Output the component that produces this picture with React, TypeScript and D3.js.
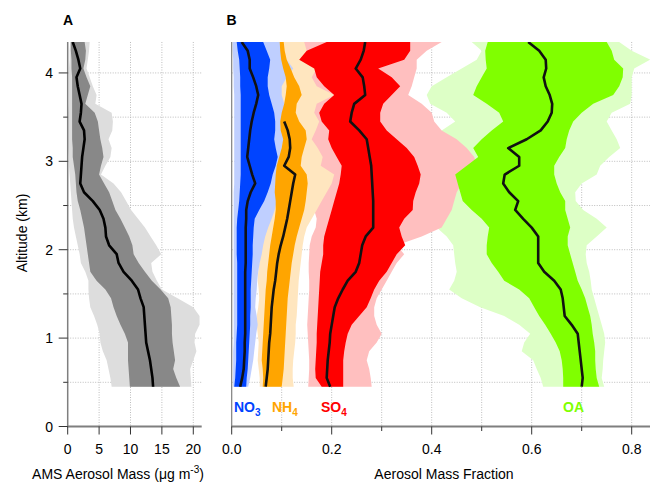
import React from 'react';
import * as d3 from 'd3';

// Altitude levels (km), top to bottom
const ALT = [4.35, 4.25, 4.15, 4.05, 3.95, 3.85, 3.75, 3.65, 3.55, 3.45, 3.35, 3.25, 3.15, 3.05, 2.95, 2.85, 2.75, 2.65, 2.55, 2.45, 2.35, 2.25, 2.15, 2.05, 1.95, 1.85, 1.75, 1.65, 1.55, 1.45, 1.35, 1.25, 1.15, 1.05, 0.95, 0.85, 0.75, 0.65, 0.55, 0.45];

// Panel A: AMS aerosol mass (ug m-3)
const MASS_P10 = [0.4, 0.3, 0.3, 0.2, 0.2, 0.2, 0.2, 0.2, 0.1, 0.1, 0.1, 0.1, 0.1, 0.2, 0.2, 0.3, 0.4, 0.5, 0.6, 0.7, 0.8, 1.0, 1.3, 1.6, 1.9, 2.1, 2.8, 3.3, 3.3, 3.4, 3.6, 4.2, 4.7, 5.1, 5.2, 5.6, 6.2, 6.5, 6.8, 7.0];
const MASS_P25 = [0.5, 0.5, 0.6, 0.6, 0.7, 0.7, 0.7, 0.7, 0.7, 0.7, 0.7, 0.7, 0.8, 0.8, 1.0, 1.2, 1.3, 1.4, 1.6, 2.0, 2.3, 2.6, 2.8, 3.0, 3.2, 3.4, 3.6, 4.6, 6.0, 6.9, 7.3, 7.8, 8.4, 9.1, 9.6, 9.6, 9.6, 9.7, 9.8, 9.9];
const MASS_MED = [0.8, 1.3, 1.7, 2.0, 1.4, 1.6, 1.9, 2.2, 2.1, 1.9, 2.6, 2.7, 2.5, 2.3, 2.2, 2.1, 2.0, 2.6, 4.0, 5.1, 5.7, 6.0, 6.1, 6.6, 7.8, 8.1, 8.9, 10.2, 11.2, 11.6, 12.1, 12.2, 12.3, 12.4, 12.5, 12.8, 13.1, 13.3, 13.5, 13.6];
const MASS_P75 = [2.7, 2.9, 2.8, 2.5, 3.0, 3.6, 3.2, 2.8, 4.3, 4.8, 5.0, 5.2, 5.5, 5.7, 5.3, 5.0, 5.8, 6.6, 7.1, 7.6, 8.4, 9.1, 9.8, 10.3, 10.5, 11.3, 12.3, 13.4, 14.8, 16.0, 16.4, 16.5, 16.6, 16.6, 16.7, 16.9, 17.1, 16.8, 17.3, 17.9];
const MASS_P90 = [3.5, 3.4, 3.2, 3.0, 3.5, 4.0, 4.6, 4.4, 7.0, 7.2, 7.1, 6.5, 7.0, 6.8, 6.0, 5.3, 7.3, 8.5, 9.3, 10.1, 11.2, 12.3, 13.2, 14.1, 14.9, 13.3, 13.5, 14.2, 15.0, 17.5, 20.0, 21.0, 21.0, 20.3, 20.2, 20.5, 20.0, 19.5, 19.6, 19.7];

// Panel B: mass fractions
const NO3_P10 = [0.002, 0.002, 0.003, 0.003, 0.004, 0.004, 0.005, 0.005, 0.005, 0.005, 0.005, 0.005, 0.005, 0.005, 0.005, 0.005, 0.005, 0.004, 0.004, 0.004, 0.004, 0.004, 0.004, 0.004, 0.004, 0.004, 0.004, 0.004, 0.004, 0.004, 0.004, 0.004, 0.004, 0.004, 0.004, 0.003, 0.003, 0.003, 0.003, 0.003];
const NO3_P25 = [0.010, 0.012, 0.015, 0.016, 0.017, 0.017, 0.018, 0.018, 0.018, 0.018, 0.018, 0.018, 0.018, 0.018, 0.018, 0.018, 0.017, 0.016, 0.015, 0.013, 0.011, 0.010, 0.010, 0.010, 0.010, 0.011, 0.011, 0.011, 0.011, 0.011, 0.011, 0.011, 0.011, 0.010, 0.009, 0.009, 0.009, 0.008, 0.007, 0.005];
const NO3_MED = [0.020, 0.032, 0.036, 0.036, 0.043, 0.049, 0.053, 0.049, 0.044, 0.040, 0.037, 0.035, 0.033, 0.031, 0.036, 0.041, 0.047, 0.038, 0.032, 0.029, 0.029, 0.028, 0.028, 0.028, 0.028, 0.028, 0.027, 0.027, 0.027, 0.027, 0.027, 0.027, 0.027, 0.027, 0.026, 0.026, 0.025, 0.024, 0.021, 0.017];
const NO3_P75 = [0.063, 0.070, 0.077, 0.075, 0.072, 0.072, 0.075, 0.080, 0.085, 0.087, 0.087, 0.085, 0.088, 0.092, 0.088, 0.082, 0.078, 0.072, 0.065, 0.055, 0.046, 0.044, 0.043, 0.042, 0.042, 0.041, 0.040, 0.039, 0.038, 0.038, 0.038, 0.037, 0.037, 0.036, 0.035, 0.034, 0.033, 0.032, 0.030, 0.029];
const NO3_P90 = [0.097, 0.100, 0.110, 0.123, 0.110, 0.100, 0.100, 0.105, 0.108, 0.107, 0.106, 0.104, 0.100, 0.104, 0.102, 0.097, 0.095, 0.093, 0.090, 0.086, 0.080, 0.073, 0.067, 0.063, 0.060, 0.056, 0.053, 0.051, 0.050, 0.048, 0.047, 0.050, 0.052, 0.049, 0.047, 0.045, 0.043, 0.040, 0.037, 0.033];

const NH4_P10 = [0.094, 0.094, 0.095, 0.096, 0.098, 0.096, 0.090, 0.087, 0.085, 0.082, 0.080, 0.082, 0.080, 0.076, 0.072, 0.070, 0.068, 0.066, 0.064, 0.062, 0.061, 0.060, 0.062, 0.060, 0.058, 0.055, 0.053, 0.052, 0.054, 0.055, 0.053, 0.050, 0.050, 0.052, 0.054, 0.053, 0.052, 0.054, 0.056, 0.056];
const NH4_P25 = [0.096, 0.097, 0.099, 0.103, 0.108, 0.110, 0.108, 0.105, 0.100, 0.097, 0.098, 0.103, 0.100, 0.095, 0.090, 0.088, 0.087, 0.086, 0.088, 0.088, 0.086, 0.083, 0.080, 0.077, 0.075, 0.073, 0.071, 0.070, 0.068, 0.067, 0.066, 0.065, 0.064, 0.063, 0.062, 0.061, 0.060, 0.062, 0.063, 0.062];
const NH4_MED = [null, null, null, null, null, null, null, null, null, 0.105, 0.112, 0.116, 0.117, 0.114, 0.105, 0.127, 0.123, 0.120, 0.117, 0.114, 0.111, 0.107, 0.103, 0.098, 0.094, 0.091, 0.089, 0.087, 0.084, 0.082, 0.080, 0.079, 0.078, 0.077, 0.075, 0.074, 0.073, 0.072, 0.070, 0.068];
const NH4_P75 = [0.104, 0.106, 0.110, 0.118, 0.125, 0.135, 0.140, 0.130, 0.128, 0.135, 0.148, 0.150, 0.145, 0.140, 0.138, 0.150, 0.152, 0.150, 0.148, 0.145, 0.140, 0.135, 0.130, 0.126, 0.123, 0.120, 0.118, 0.116, 0.114, 0.112, 0.111, 0.110, 0.109, 0.108, 0.107, 0.106, 0.105, 0.104, 0.102, 0.100];
const NH4_P90 = [0.145, 0.150, 0.160, 0.170, 0.160, 0.170, 0.205, 0.170, 0.165, 0.175, 0.168, 0.160, 0.172, 0.182, 0.178, 0.205, 0.200, 0.190, 0.180, 0.170, 0.160, 0.150, 0.145, 0.142, 0.140, 0.138, 0.136, 0.134, 0.133, 0.132, 0.131, 0.130, 0.128, 0.128, 0.127, 0.125, 0.123, 0.122, 0.122, 0.124];

const SO4_P10 = [0.130, 0.120, 0.125, 0.135, 0.140, 0.150, 0.160, 0.155, 0.157, 0.152, 0.140, 0.145, 0.150, 0.155, 0.160, 0.160, 0.155, 0.150, 0.155, 0.165, 0.170, 0.168, 0.160, 0.156, 0.155, 0.154, 0.154, 0.155, 0.155, 0.154, 0.153, 0.152, 0.151, 0.152, 0.153, 0.154, 0.155, 0.155, 0.154, 0.153];
const SO4_P25 = [0.190, 0.150, 0.135, 0.165, 0.170, 0.185, 0.205, 0.185, 0.175, 0.180, 0.195, 0.193, 0.200, 0.210, 0.220, 0.218, 0.215, 0.210, 0.205, 0.200, 0.195, 0.190, 0.185, 0.183, 0.183, 0.180, 0.177, 0.176, 0.175, 0.174, 0.173, 0.172, 0.171, 0.170, 0.170, 0.169, 0.168, 0.167, 0.168, 0.180];
const SO4_MED = [0.267, 0.264, 0.258, 0.248, 0.262, 0.265, 0.267, 0.245, 0.240, 0.237, 0.255, 0.270, 0.273, 0.276, 0.279, 0.280, 0.281, 0.282, 0.283, 0.283, 0.283, 0.283, 0.268, 0.261, 0.258, 0.255, 0.248, 0.232, 0.222, 0.213, 0.206, 0.203, 0.200, 0.197, 0.196, 0.194, 0.192, 0.191, 0.190, 0.197];
const SO4_P75 = [0.357, 0.357, 0.345, 0.293, 0.320, 0.337, 0.320, 0.303, 0.297, 0.297, 0.310, 0.330, 0.350, 0.365, 0.372, 0.378, 0.375, 0.368, 0.363, 0.362, 0.345, 0.335, 0.340, 0.347, 0.330, 0.320, 0.310, 0.295, 0.285, 0.278, 0.270, 0.255, 0.240, 0.232, 0.228, 0.225, 0.223, 0.223, 0.223, 0.223];
const SO4_P90 = [0.420, 0.390, 0.370, 0.370, 0.365, 0.360, 0.353, 0.380, 0.400, 0.405, 0.420, 0.450, 0.470, 0.485, 0.490, 0.480, 0.460, 0.450, 0.445, 0.440, 0.430, 0.420, 0.380, 0.330, 0.345, 0.330, 0.320, 0.310, 0.300, 0.290, 0.285, 0.285, 0.290, 0.300, 0.290, 0.275, 0.270, 0.275, 0.278, 0.280];

const OA_P10 = [0.480, 0.500, 0.490, 0.460, 0.430, 0.400, 0.390, 0.397, 0.430, 0.447, 0.420, 0.400, 0.400, 0.410, 0.420, 0.420, 0.420, 0.420, 0.420, 0.420, 0.415, 0.410, 0.430, 0.443, 0.445, 0.447, 0.450, 0.445, 0.435, 0.460, 0.497, 0.545, 0.575, 0.597, 0.585, 0.580, 0.603, 0.610, 0.618, 0.623];
const OA_P25 = [0.512, 0.507, 0.508, 0.510, 0.500, 0.490, 0.483, 0.510, 0.535, 0.543, 0.520, 0.500, 0.483, 0.493, 0.470, 0.447, 0.452, 0.457, 0.462, 0.480, 0.500, 0.515, 0.512, 0.510, 0.510, 0.520, 0.533, 0.545, 0.575, 0.595, 0.605, 0.615, 0.627, 0.638, 0.648, 0.656, 0.660, 0.662, 0.663, 0.663];
const OA_MED = [0.593, 0.615, 0.628, 0.629, 0.624, 0.628, 0.636, 0.641, 0.640, 0.632, 0.618, 0.590, 0.553, 0.575, 0.575, 0.546, 0.543, 0.555, 0.573, 0.567, 0.583, 0.600, 0.613, 0.613, 0.613, 0.613, 0.625, 0.645, 0.658, 0.662, 0.664, 0.666, 0.680, 0.692, 0.694, 0.696, 0.698, 0.700, 0.702, 0.700];
const OA_P75 = [0.750, 0.760, 0.765, 0.783, 0.782, 0.775, 0.763, 0.723, 0.700, 0.683, 0.675, 0.670, 0.667, 0.655, 0.645, 0.645, 0.650, 0.657, 0.667, 0.667, 0.672, 0.677, 0.672, 0.672, 0.677, 0.682, 0.687, 0.692, 0.700, 0.707, 0.712, 0.717, 0.720, 0.722, 0.725, 0.727, 0.727, 0.728, 0.730, 0.735];
const OA_P90 = [0.775, 0.800, 0.837, 0.805, 0.800, 0.800, 0.800, 0.797, 0.760, 0.750, 0.760, 0.770, 0.777, 0.755, 0.737, 0.730, 0.700, 0.687, 0.688, 0.703, 0.730, 0.750, 0.730, 0.710, 0.708, 0.710, 0.715, 0.718, 0.720, 0.725, 0.730, 0.735, 0.740, 0.745, 0.747, 0.745, 0.743, 0.742, 0.740, 0.745];

const A_TICKS = [0, 5, 10, 15, 20];
const B_TICKS = [0, 0.2, 0.4, 0.6, 0.8];
const B_MINOR = [0.1, 0.3, 0.5, 0.7];
const Y_TICKS = [0, 1, 2, 3, 4];
const Y_MINOR = [0.5, 1.5, 2.5, 3.5];
const Y_GRID = [0.5, 1, 1.5, 2, 2.5, 3, 3.5, 4];
const A_GRID = [5, 10, 15, 20];
const B_GRID = [0.1, 0.2, 0.3, 0.4, 0.5, 0.6, 0.7, 0.8];

const FONT = "'Liberation Sans', Arial, Helvetica, sans-serif";

const y = d3.scaleLinear().domain([0, 4.35]).range([426.5, 42]);
const xA = d3.scaleLinear().domain([0, 21.34]).range([67.7, 201.7]);
const xB = d3.scaleLinear().domain([0, 0.8366]).range([231.7, 650]);

const IDX = d3.range(ALT.length);

function bandPath(x: any, lo: number[], hi: number[]) {
  return d3.area<number>().y((i) => y(ALT[i])).x0((i) => x(lo[i])).x1((i) => x(hi[i]))(IDX) || '';
}
function linePath(x: any, m: (number | null)[]) {
  return d3.line<number>().defined((i) => m[i] != null).x((i) => x(m[i] as number)).y((i) => y(ALT[i]))(IDX) || '';
}

const SPECIES = [
  { key: 'OA', sub: '', p10: OA_P10, p25: OA_P25, med: OA_MED, p75: OA_P75, p90: OA_P90, dark: '#80ff00', light: '#ddffc6', lx: 563 },
  { key: 'SO', sub: '4', p10: SO4_P10, p25: SO4_P25, med: SO4_MED, p75: SO4_P75, p90: SO4_P90, dark: '#ff0000', light: '#ffbfbf', lx: 321 },
  { key: 'NH', sub: '4', p10: NH4_P10, p25: NH4_P25, med: NH4_MED, p75: NH4_P75, p90: NH4_P90, dark: '#ffa500', light: '#ffe6bf', lx: 272 },
  { key: 'NO', sub: '3', p10: NO3_P10, p25: NO3_P25, med: NO3_MED, p75: NO3_P75, p90: NO3_P90, dark: '#0044ff', light: '#bfcfff', lx: 234 },
];

export default function App() {
  const top = 42;
  const bottom = 426.5;
  const gridStyle = { stroke: '#bdbdbd', strokeWidth: 1, strokeDasharray: '1,1.5' };
  return (
    <div style={{ position: 'absolute', left: 0, top: 0 }}>
      <svg width={650} height={483} style={{ display: 'block', background: '#fff' }} fontFamily={FONT}>
        <defs>
          <clipPath id="clipA"><rect x={xA.range()[0]} y={top} width={xA.range()[1] - xA.range()[0]} height={bottom - top} /></clipPath>
          <clipPath id="clipB"><rect x={xB.range()[0]} y={top} width={xB.range()[1] - xB.range()[0]} height={bottom - top} /></clipPath>
        </defs>

        {/* Grids */}
        <g>
          {Y_GRID.map((v) => (
            <line key={'ga' + v} x1={xA.range()[0]} x2={xA.range()[1]} y1={y(v)} y2={y(v)} style={gridStyle} />
          ))}
          {A_GRID.map((v) => (
            <line key={'gav' + v} x1={xA(v)} x2={xA(v)} y1={top} y2={bottom} style={gridStyle} />
          ))}
          {Y_GRID.map((v) => (
            <line key={'gb' + v} x1={xB.range()[0]} x2={xB.range()[1]} y1={y(v)} y2={y(v)} style={gridStyle} />
          ))}
          {B_GRID.map((v) => (
            <line key={'gbv' + v} x1={xB(v)} x2={xB(v)} y1={top} y2={bottom} style={gridStyle} />
          ))}
        </g>

        {/* Panel A */}
        <g clipPath="url(#clipA)">
          <path d={bandPath(xA, MASS_P10, MASS_P90)} fill="#dddddd" />
          <path d={bandPath(xA, MASS_P25, MASS_P75)} fill="#888888" />
          <path d={linePath(xA, MASS_MED)} fill="none" stroke="#000" strokeWidth={2.6} strokeLinejoin="round" />
        </g>

        {/* Panel B */}
        <g clipPath="url(#clipB)">
          {SPECIES.map((s) => (
            <path key={'l' + s.key} d={bandPath(xB, s.p10, s.p90)} fill={s.light} />
          ))}
          {SPECIES.map((s) => (
            <path key={'d' + s.key} d={bandPath(xB, s.p25, s.p75)} fill={s.dark} />
          ))}
          {SPECIES.map((s) => (
            <path key={'m' + s.key} d={linePath(xB, s.med)} fill="none" stroke="#111" strokeWidth={2.6} strokeLinejoin="round" />
          ))}
        </g>

        {/* Species labels */}
        {SPECIES.map((s) => (
          <text key={'t' + s.key} x={s.lx} y={411.5} fill={s.dark} fontWeight="bold" fontSize={14}>
            {s.key}
            {s.sub && <tspan fontSize={10} dy={4}>{s.sub}</tspan>}
          </text>
        ))}

        {/* Axes lines */}
        <line x1={xA.range()[0]} x2={xA.range()[0]} y1={top} y2={bottom} stroke="#7f7f7f" strokeWidth={1.5} />
        <line x1={xB.range()[0]} x2={xB.range()[0]} y1={top} y2={bottom} stroke="#7f7f7f" strokeWidth={1.2} />
        <line x1={xA.range()[0] - 0.75} x2={xA.range()[1]} y1={bottom} y2={bottom} stroke="#7f7f7f" strokeWidth={2} />
        <line x1={xB.range()[0] - 0.6} x2={xB.range()[1]} y1={bottom} y2={bottom} stroke="#7f7f7f" strokeWidth={2} />

        {/* Y ticks (panel A) */}
        {Y_TICKS.map((v) => (
          <g key={'yt' + v}>
            <line x1={xA.range()[0] - 9} x2={xA.range()[0]} y1={y(v)} y2={y(v)} stroke="#333" strokeWidth={1} />
            <text x={53} y={y(v) + 5} fontSize={14} textAnchor="end" fill="#000">{v}</text>
          </g>
        ))}
        {Y_MINOR.map((v) => (
          <line key={'ym' + v} x1={xA.range()[0] - 4.5} x2={xA.range()[0]} y1={y(v)} y2={y(v)} stroke="#333" strokeWidth={1} />
        ))}

        {/* X ticks panel A */}
        {A_TICKS.map((v) => (
          <g key={'xa' + v}>
            <line x1={xA(v)} x2={xA(v)} y1={bottom} y2={bottom + 8} stroke="#333" strokeWidth={1} />
            <text x={xA(v)} y={454} fontSize={14} textAnchor="middle" fill="#000">{v}</text>
          </g>
        ))}

        {/* X ticks panel B */}
        {B_TICKS.map((v) => (
          <g key={'xb' + v}>
            <line x1={xB(v)} x2={xB(v)} y1={bottom} y2={bottom + 8} stroke="#333" strokeWidth={1} />
            <text x={xB(v)} y={454} fontSize={14} textAnchor="middle" fill="#000">{d3.format('.1f')(v)}</text>
          </g>
        ))}
        {B_MINOR.map((v) => (
          <line key={'xbm' + v} x1={xB(v)} x2={xB(v)} y1={bottom} y2={bottom + 4.5} stroke="#333" strokeWidth={1} />
        ))}

        {/* Titles */}
        <text transform="translate(26.5,233) rotate(-90)" fontSize={14} textAnchor="middle" fill="#000">Altitude (km)</text>
        <text x={118} y={479} fontSize={14} textAnchor="middle" fill="#000">
          AMS Aerosol Mass (μg m<tspan fontSize={10} dy={-6}>-3</tspan><tspan dy={6}>)</tspan>
        </text>
        <text x={444} y={479} fontSize={14} textAnchor="middle" fill="#000">Aerosol Mass Fraction</text>

        <text x={63} y={24.5} fontSize={14} fontWeight="bold" fill="#000">A</text>
        <text x={226.5} y={24.5} fontSize={14} fontWeight="bold" fill="#000">B</text>
      </svg>
    </div>
  );
}
